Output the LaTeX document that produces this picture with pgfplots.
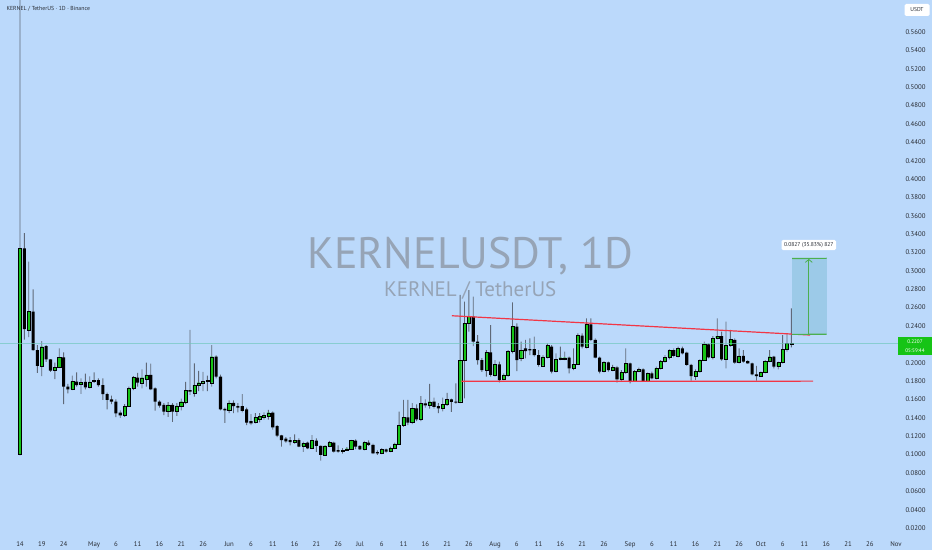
\documentclass[border=0pt]{standalone}
\usepackage{fontspec}
\setmainfont{PT Sans}
\usepackage{pgfplots}
\usepackage{pgfplotstable}
\pgfplotsset{compat=1.18}
\usetikzlibrary{arrows.meta}

\definecolor{bgblue}{RGB}{187,217,251}
\definecolor{upgreen}{RGB}{22,196,22}
\definecolor{wick}{RGB}{95,105,120}
\definecolor{tvred}{RGB}{242,54,69}
\definecolor{tvgreen}{RGB}{76,175,80}
\definecolor{wmark}{RGB}{150,164,182}
\definecolor{lastline}{RGB}{110,200,185}
\definecolor{rangefill}{RGB}{156,202,232}
\definecolor{txt}{RGB}{40,44,52}

% daily candles, d = days since 14 Apr
\pgfplotstableread{
d O H L C
0 0.1006 0.6000 0.0990 0.3245
1 0.3245 0.3410 0.2250 0.2365
2 0.2355 0.3100 0.2277 0.2560
3 0.2555 0.2799 0.2130 0.2138
4 0.2138 0.2190 0.1890 0.1964
5 0.1964 0.2236 0.1855 0.2174
6 0.2180 0.2190 0.2010 0.2037
7 0.2037 0.2040 0.1900 0.1913
8 0.1913 0.2000 0.1820 0.1950
9 0.1950 0.2156 0.1940 0.2059
10 0.2059 0.2113 0.1550 0.1739
11 0.1739 0.1768 0.1666 0.1710
12 0.1710 0.1858 0.1700 0.1793
13 0.1793 0.1895 0.1740 0.1757
14 0.1765 0.1830 0.1660 0.1787
15 0.1790 0.1880 0.1710 0.1732
16 0.1732 0.1850 0.1720 0.1790
17 0.1793 0.1895 0.1780 0.1811
18 0.1811 0.1830 0.1740 0.1757
19 0.1757 0.1830 0.1594 0.1659
20 0.1659 0.1673 0.1492 0.1594
21 0.1601 0.1640 0.1550 0.1575
22 0.1575 0.1600 0.1408 0.1449
23 0.1455 0.1480 0.1400 0.1427
24 0.1427 0.1550 0.1410 0.1528
25 0.1528 0.1740 0.1520 0.1720
26 0.1720 0.1855 0.1700 0.1840
27 0.1836 0.1890 0.1740 0.1782
28 0.1782 0.1927 0.1720 0.1836
29 0.1822 0.2000 0.1740 0.1866
30 0.1866 0.1990 0.1700 0.1710
31 0.1720 0.1730 0.1477 0.1575
32 0.1575 0.1590 0.1510 0.1532
33 0.1540 0.1560 0.1430 0.1467
34 0.1467 0.1570 0.1410 0.1540
35 0.1540 0.1560 0.1356 0.1467
36 0.1467 0.1560 0.1420 0.1530
37 0.1524 0.1610 0.1480 0.1575
38 0.1575 0.1790 0.1550 0.1695
39 0.1702 0.2356 0.1650 0.1684
40 0.1673 0.1993 0.1630 0.1757
41 0.1753 0.1910 0.1690 0.1782
42 0.1782 0.1900 0.1690 0.1797
43 0.1797 0.1860 0.1690 0.1804
44 0.1782 0.2192 0.1740 0.2065
45 0.2065 0.2080 0.1830 0.1847
46 0.1847 0.1870 0.1480 0.1492
47 0.1497 0.1510 0.1345 0.1482
48 0.1482 0.1590 0.1450 0.1562
49 0.1562 0.1590 0.1450 0.1528
50 0.1528 0.1560 0.1460 0.1510
51 0.1528 0.1659 0.1460 0.1475
52 0.1492 0.1510 0.1320 0.1347
53 0.1365 0.1440 0.1320 0.1340
54 0.1357 0.1450 0.1340 0.1405
55 0.1390 0.1450 0.1350 0.1412
56 0.1401 0.1460 0.1380 0.1423
57 0.1419 0.1485 0.1380 0.1455
58 0.1455 0.1470 0.1270 0.1296
59 0.1310 0.1320 0.1190 0.1205
60 0.1209 0.1215 0.1085 0.1158
61 0.1172 0.1190 0.1130 0.1144
62 0.1158 0.1190 0.1100 0.1136
63 0.1136 0.1220 0.1120 0.1158
64 0.1158 0.1175 0.1080 0.1085
65 0.1092 0.1140 0.1030 0.1121
66 0.1129 0.1140 0.1060 0.1068
67 0.1068 0.1212 0.1060 0.1151
68 0.1151 0.1175 0.1030 0.1093
69 0.1093 0.1100 0.0933 0.0995
70 0.0995 0.1100 0.0985 0.1093
71 0.1093 0.1150 0.1080 0.1129
72 0.1129 0.1140 0.1020 0.1031
73 0.1049 0.1100 0.1020 0.1031
74 0.1031 0.1070 0.1010 0.1049
75 0.1042 0.1080 0.1040 0.1063
76 0.1057 0.1160 0.1050 0.1151
77 0.1151 0.1165 0.1060 0.1085
78 0.1093 0.1100 0.1050 0.1057
79 0.1057 0.1150 0.1045 0.1129
80 0.1129 0.1155 0.1095 0.1104
81 0.1104 0.1120 0.1005 0.1013
82 0.1027 0.1045 0.0995 0.1013
83 0.1013 0.1070 0.1005 0.1057
84 0.1057 0.1065 0.1020 0.1031
85 0.1031 0.1085 0.1025 0.1068
86 0.1068 0.1130 0.1060 0.1115
87 0.1115 0.1466 0.1105 0.1321
88 0.1321 0.1594 0.1300 0.1405
89 0.1405 0.1594 0.1320 0.1347
90 0.1347 0.1560 0.1330 0.1503
91 0.1503 0.1545 0.1365 0.1383
92 0.1383 0.1637 0.1365 0.1558
93 0.1558 0.1600 0.1510 0.1536
94 0.1540 0.1768 0.1500 0.1575
95 0.1575 0.1620 0.1500 0.1520
96 0.1528 0.1560 0.1450 0.1503
97 0.1503 0.1620 0.1470 0.1550
98 0.1550 0.1670 0.1530 0.1601
99 0.1601 0.1610 0.1465 0.1572
100 0.1575 0.1775 0.1555 0.1564
101 0.1575 0.2737 0.1560 0.2029
102 0.2029 0.2664 0.1612 0.2429
103 0.2429 0.2791 0.2337 0.2501
104 0.2501 0.2719 0.2180 0.2229
105 0.2229 0.2300 0.1980 0.2029
106 0.2029 0.2050 0.1900 0.1920
107 0.1920 0.2138 0.1848 0.2112
108 0.2112 0.2410 0.1848 0.1866
109 0.1866 0.2029 0.1848 0.1982
110 0.1982 0.2011 0.1786 0.1811
111 0.1822 0.1884 0.1811 0.1866
112 0.1866 0.2138 0.1848 0.2127
113 0.2127 0.2657 0.2102 0.2392
114 0.2392 0.2428 0.1909 0.2029
115 0.2047 0.2229 0.2018 0.2138
116 0.2156 0.2247 0.2047 0.2127
117 0.2149 0.2265 0.2083 0.2134
118 0.2149 0.2283 0.2065 0.2083
119 0.2083 0.2138 0.1956 0.1975
120 0.1967 0.2083 0.1956 0.2062
121 0.2062 0.2211 0.2047 0.2185
122 0.2174 0.2192 0.1884 0.1902
123 0.1902 0.2102 0.1895 0.2036
124 0.2040 0.2174 0.2029 0.2054
125 0.2036 0.2120 0.2029 0.2054
126 0.2054 0.2065 0.1884 0.1938
127 0.1938 0.2156 0.1920 0.1982
128 0.1982 0.2319 0.1975 0.2294
129 0.2294 0.2319 0.2156 0.2174
130 0.2174 0.2483 0.2156 0.2417
131 0.2417 0.2483 0.2236 0.2247
132 0.2247 0.2265 0.2047 0.2054
133 0.2054 0.2065 0.1884 0.1902
134 0.1909 0.2018 0.1895 0.2000
135 0.2004 0.2011 0.1902 0.1920
136 0.1920 0.1975 0.1909 0.1946
137 0.1949 0.1964 0.1782 0.1819
138 0.1819 0.1920 0.1804 0.1891
139 0.1891 0.2156 0.1877 0.1993
140 0.1993 0.2000 0.1775 0.1800
141 0.1800 0.1920 0.1793 0.1909
142 0.1909 0.1946 0.1898 0.1927
143 0.1927 0.1938 0.1793 0.1800
144 0.1800 0.1891 0.1793 0.1884
145 0.1884 0.1902 0.1819 0.1830
146 0.1830 0.1957 0.1819 0.1938
147 0.1938 0.2029 0.1927 0.2018
148 0.2018 0.2083 0.2000 0.2055
149 0.2055 0.2145 0.2036 0.2131
150 0.2138 0.2156 0.2058 0.2073
151 0.2073 0.2174 0.2058 0.2156
152 0.2156 0.2174 0.2091 0.2102
153 0.2109 0.2120 0.1964 0.1975
154 0.1975 0.1986 0.1804 0.1855
155 0.1855 0.1927 0.1812 0.1909
156 0.1909 0.2036 0.1891 0.2029
157 0.2029 0.2229 0.2022 0.2200
158 0.2200 0.2211 0.2047 0.2058
159 0.2058 0.2290 0.2036 0.2265
160 0.2265 0.2483 0.2254 0.2290
161 0.2290 0.2338 0.2022 0.2036
162 0.2036 0.2446 0.1938 0.2192
163 0.2192 0.2356 0.2174 0.2254
164 0.2247 0.2265 0.1986 0.2000
165 0.2000 0.2156 0.1993 0.2073
166 0.2073 0.2138 0.2000 0.2011
167 0.2018 0.2029 0.1986 0.1993
168 0.1993 0.2000 0.1862 0.1873
169 0.1873 0.1964 0.1804 0.1855
170 0.1855 0.1902 0.1848 0.1891
171 0.1891 0.2029 0.1884 0.2018
172 0.2018 0.2138 0.2007 0.2065
173 0.2065 0.2073 0.1938 0.1957
174 0.1957 0.2011 0.1927 0.2000
175 0.2000 0.2300 0.1993 0.2145
176 0.2145 0.2320 0.2120 0.2211
177 0.2200 0.2592 0.2167 0.2207
}\candles

\pgfplotsset{
  tvbase/.style={
    scale only axis, width=898pt, height=537pt,
    at={(0pt,0pt)}, anchor=south west,
    xmin=-4.589, xmax=201.47, ymin=0.0102, ymax=0.5949,
    clip mode=individual,
  },
}

\begin{document}
\begin{tikzpicture}
\fill[bgblue, use as bounding box] (0pt,-13pt) rectangle (932pt,537pt);

% axis with scales, watermark and wicks
\begin{axis}[tvbase,
    ybar stacked, bar width=0.9pt,
    axis line style={draw=none}, major tick length=0pt,
    yticklabel pos=right,
    % 0.22 sits under the last-price label
    ytick={0.02,0.04,0.06,0.08,0.10,0.12,0.14,0.16,0.18,0.20,0.24,0.26,0.28,0.30,0.32,0.34,0.36,0.38,0.40,0.42,0.44,0.46,0.48,0.50,0.52,0.54,0.56},
    yticklabel style={anchor=west, xshift=4pt, text=txt, font=\fontsize{6.8}{8}\selectfont,
      /pgf/number format/.cd, fixed, fixed zerofill, precision=4, assume math mode=true},
    xtick={0,5,10,17,22,27,32,37,42,48,53,58,63,68,73,78,83,88,93,98,103,109,114,119,124,129,134,140,145,150,155,160,165,170,175,180,185,190,195,201},
    xticklabels={14,19,24,May,6,11,16,21,26,Jun,6,11,16,21,26,Jul,6,11,16,21,26,Aug,6,11,16,21,26,Sep,6,11,16,21,26,Oct,6,11,16,21,26,Nov},
    xticklabel style={text=txt, font=\fontsize{6.8}{8}\selectfont, yshift=-1pt},
  ]
  \node[text=wmark, font=\fontsize{44}{48}\selectfont] at (axis cs:103.3,0.3161) {KERNELUSDT, 1D};
  \node[text=wmark, font=\fontsize{21}{24}\selectfont] at (axis cs:103.3,0.2791) {KERNEL / TetherUS};
  \addplot[draw=none, fill=none] table[x=d, y=L] \candles;
  \addplot[draw=none, fill=wick] table[x=d, y expr={\thisrow{H}-\thisrow{L}}] \candles;
\end{axis}

% candle bodies
\begin{axis}[tvbase, hide axis, ybar stacked, bar width=3.1pt]
  \addplot[draw=none, fill=none] table[x=d, y expr={min(\thisrow{O},\thisrow{C})}] \candles;
  \addplot[draw=black, line width=0.4pt, fill=upgreen] table[x=d, y expr={max(\thisrow{C}-\thisrow{O},0)}] \candles;
  \addplot[draw=none, fill=black] table[x=d, y expr={max(\thisrow{O}-\thisrow{C},0)}] \candles;
\end{axis}

% drawings: last price, trend lines, range tool
\begin{axis}[tvbase, hide axis]
  \addplot[draw=lastline, line width=0.6pt] coordinates {(-4.589,0.2207) (201.47,0.2208)};
  \addplot[draw=tvred, line width=1.2pt] coordinates {(99.1,0.2511) (181.3,0.2301)};
  \addplot[draw=tvred, line width=1.2pt] coordinates {(101.3,0.1797) (182.0,0.1799)};
  \addplot[fill=rangefill, draw=none] coordinates {(177.2,0.2308) (185.1,0.2308) (185.1,0.3135) (177.2,0.3135)};
  \addplot[draw=tvgreen, line width=1.2pt] coordinates {(177.2,0.3135) (185.1,0.3136)};
  \addplot[draw=tvgreen, line width=1.2pt] coordinates {(177.2,0.2308) (185.1,0.2309)};
  \addplot[draw=tvgreen, line width=0.8pt, -{Straight Barb[length=3pt, width=7pt]}] coordinates {(181.0,0.2308) (181.0,0.3130)};
  \node[fill=white, rounded corners=1.5pt, inner sep=2.5pt, text=txt, font=\fontsize{5.6}{6}\selectfont]
    at (axis cs:181.0,0.3281) {0.0827 (35.83\%) 827};
\end{axis}

% header and price scale labels
\node[anchor=west, text=txt, font=\fontsize{5.8}{6}\selectfont] at (3pt,528pt) {KERNEL / TetherUS · 1D · Binance};
\node[fill=white, rounded corners=1.5pt, minimum width=25pt, minimum height=12pt, inner sep=1pt,
  text=txt, font=\fontsize{5.6}{6}\selectfont] at (917pt,527pt) {USDT};
\fill[upgreen] (898pt,182pt) rectangle (932pt,200pt);
\node[text=white, inner sep=0pt, font=\fontsize{5.2}{6}\selectfont] at (915pt,195.3pt) {0.2207};
\node[text=white, inner sep=0pt, font=\fontsize{5.2}{6}\selectfont] at (915pt,186.8pt) {05:59:44};
\end{tikzpicture}
\end{document}
